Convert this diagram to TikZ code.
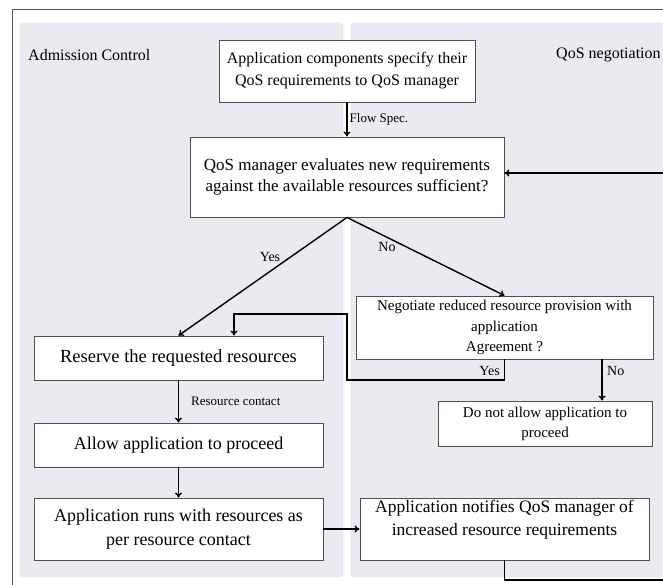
\documentclass[tikz,border=0pt]{standalone}
\usepackage{fontspec}
\setmainfont{Liberation Serif}
\usetikzlibrary{arrows.meta}
\definecolor{panel}{RGB}{236,233,241}
\definecolor{boxline}{RGB}{80,80,80}
\begin{document}
\begin{tikzpicture}[x=1pt,y=-1pt,
  box/.style={draw=boxline, line width=0.9pt, fill=white, align=center, inner sep=0pt, anchor=center},
  arr/.style={draw=black, line width=1.4pt, -{To[length=5pt,width=7pt]}},
  conn/.style={draw=black, line width=1.4pt},
  lbl/.style={inner sep=0pt, font=\fontsize{13}{15}\selectfont},
  title/.style={inner sep=0pt, anchor=west, font=\fontsize{16}{19}\selectfont},
  panelbox/.style={fill=panel, draw=black!12, rounded corners=3pt}]
\useasboundingbox (0,0) rectangle (663,584);
\begin{scope}
\clip (0,0) rectangle (663,584);
\fill[white] (0,0) rectangle (663,584);
\draw[fill=white, draw=black!65, line width=1pt] (12,9) rectangle (700,610);
\path[panelbox] (20,23) rectangle (343,577);
\path[panelbox] (351,23) rectangle (720,577);

\node[title] (adm) at (28,55) {Admission Control};
\node[title] (neglbl) at (556,55) {QoS negotiation};

\node[box, minimum width=256pt, minimum height=62pt, font=\fontsize{16}{22}\selectfont] (top) at (347,71)
  {Application components specify their\\QoS requirements to QoS manager};
\node[box, minimum width=314pt, minimum height=80pt, font=\fontsize{17}{21}\selectfont] (qos) at (347,177)
  {QoS manager evaluates new requirements\\against the available resources sufficient?};
\node[box, minimum width=297pt, minimum height=63pt, font=\fontsize{15}{20.5}\selectfont] (neg) at (504.5,327.5)
  {Negotiate reduced resource provision with\\application\\Agreement ?};
\node[box, minimum width=214pt, minimum height=45pt, font=\fontsize{15}{20}\selectfont] (dna) at (545,423.5)
  {Do not allow application to\\proceed};
\node[box, minimum width=289pt, minimum height=44pt, font=\fontsize{18.5}{22}\selectfont] (reserve) at (178.5,358)
  {Reserve the requested resources};
\node[box, minimum width=289pt, minimum height=44pt, font=\fontsize{18}{22}\selectfont] (allow) at (178.5,445)
  {Allow application to proceed};
\node[box, minimum width=289pt, minimum height=62pt, font=\fontsize{18}{24}\selectfont] (runs) at (178.5,529)
  {Application runs with resources as\\per resource contact};
\node[box, minimum width=289pt, minimum height=62pt,
  label={[yshift=9pt, align=center, inner sep=0pt, font=\fontsize{17.5}{23}\selectfont]center:Application notifies QoS manager of\\increased resource requirements}] (notify) at (504.5,529) {};

\coordinate (fbTop) at (700,173);
\coordinate (fbBot) at (700,580);
\coordinate (y1) at (347,380);
\coordinate (y2) at (347,314);
\coordinate (y3) at (234,314);
\coordinate (noX) at (602,0);

\draw[arr] (top.south) -- node[lbl, anchor=west, xshift=2pt] (flow) {Flow Spec.} (qos.north);
\draw[arr] (fbTop) -- (qos.east |- fbTop);
\draw[arr] (qos.south) -- (reserve.north);
\draw[arr] (qos.south) -- (neg.north);
\node[lbl, font=\fontsize{14}{16}\selectfont] (yes1) at (270,257) {Yes};
\node[lbl, font=\fontsize{14}{16}\selectfont] (no1) at (387,247) {No};
\draw[arr] (neg.south) |- (y1) -- (y2) -- (y3) -- (y3 |- reserve.north);
\node[lbl, anchor=east, font=\fontsize{14}{16}\selectfont] (yes2) at (500,371) {Yes};
\draw[arr] (neg.south -| noX) -- (dna.north -| noX);
\node[lbl, anchor=west, font=\fontsize{14}{16}\selectfont] (no2) at (607,371) {No};
\draw[arr] (reserve.south) -- node[lbl, anchor=west, xshift=12pt] (rc) {Resource contact} (allow.north);
\draw[arr] (allow.south) -- (runs.north);
\draw[arr] (runs.east) -- (notify.west);
\draw[conn] (notify.south) |- (fbBot);
\end{scope}
\end{tikzpicture}
\end{document}
